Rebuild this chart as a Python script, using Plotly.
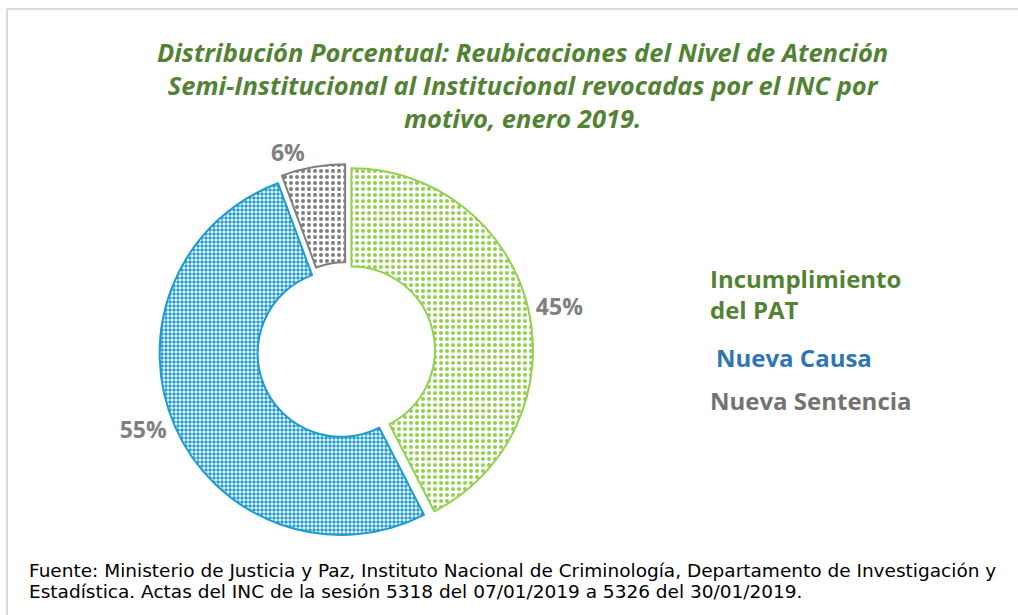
import plotly.graph_objects as go

# Data
categories = ["Incumplimiento del PAT", "Nueva Causa", "Nueva Sentencia"]
values = [45, 55, 6]
value_labels = ["45%", "55%", "6%"]

title_lines = [
    "Distribución Porcentual: Reubicaciones del Nivel de Atención",
    "Semi-Institucional al Institucional revocadas por el INC por",
    "motivo, enero 2019.",
]
legend_lines = [["Incumplimiento", "del PAT"], ["Nueva Causa"], ["Nueva Sentencia"]]
footnote_lines = [
    "Fuente: Ministerio de Justicia y Paz, Instituto Nacional de Criminología, Departamento de Investigación y",
    "Estadística. Actas del INC de la sesión 5318 del 07/01/2019 a 5326 del 30/01/2019.",
]

# Styles
line_colors = ["#92D050", "#1E9BD0", "#7F7F7F"]
legend_colors = ["#548235", "#2E75B6", "#767171"]

W, H = 1018, 615

fig = go.Figure()

fig.add_trace(go.Pie(
    labels=categories,
    values=values,
    text=value_labels,
    textinfo="text",
    textposition="outside",
    textfont=dict(family="Open Sans", size=23, color="#808080", weight="bold"),
    hole=0.46,
    sort=False,
    direction="clockwise",
    rotation=0,
    pull=[0.03, 0.03, 0.03],
    marker=dict(
        colors=["white", "white", "white"],
        line=dict(color=line_colors, width=2),
        pattern=dict(
            shape=[".", ".", "."],
            fgcolor=line_colors,
            bgcolor=["white", "white", "white"],
            size=[6, 4, 6],
            solidity=[0.35, 0.6, 0.35],
            fillmode="replace",
        ),
    ),
    showlegend=False,
    hoverinfo="label+text",
    domain=dict(x=[0.155, 0.525], y=[0.125, 0.733]),
))

annotations = []
# Title
annotations.append(dict(
    text="<br>".join(title_lines), x=522 / W, y=1 - 85 / H, xref="paper", yref="paper",
    xanchor="center", yanchor="middle", showarrow=False, align="center",
    font=dict(family="Open Sans", size=25.5, color="#548235", weight="bold", style="italic"),
))
# Legend as text
leg_pos = [[(708, 278), (708, 309)], [(714, 357)], [(708, 401)]]
for lines, c, poss in zip(legend_lines, legend_colors, leg_pos):
    for t, (px, py) in zip(lines, poss):
        annotations.append(dict(
            text=t, x=px / W, y=1 - py / H, xref="paper", yref="paper",
            xanchor="left", yanchor="middle", showarrow=False, align="left",
            font=dict(family="Open Sans", size=24, color=c, weight="bold"),
        ))
# Footnote
for i, t in enumerate(footnote_lines):
    annotations.append(dict(
        text=t, x=27 / W, y=1 - (570 + 21 * i) / H, xref="paper", yref="paper",
        xanchor="left", yanchor="middle", showarrow=False, align="left",
        font=dict(family="DejaVu Sans", size=18.5, color="#000000"),
    ))

shapes = [
    dict(type="line", xref="paper", yref="paper", x0=7 / W, x1=1, y0=1 - 9 / H, y1=1 - 9 / H,
         line=dict(color="#D9D9D9", width=2)),
    dict(type="line", xref="paper", yref="paper", x0=7 / W, x1=7 / W, y0=0, y1=1 - 9 / H,
         line=dict(color="#D9D9D9", width=2)),
]

fig.update_layout(
    width=W, height=H,
    margin=dict(l=0, r=0, t=0, b=0),
    paper_bgcolor="white",
    plot_bgcolor="white",
    annotations=annotations,
    shapes=shapes,
)

fig.write_html("out.html", config={"displayModeBar": False},
               post_script="document.body.style.margin='0';")
